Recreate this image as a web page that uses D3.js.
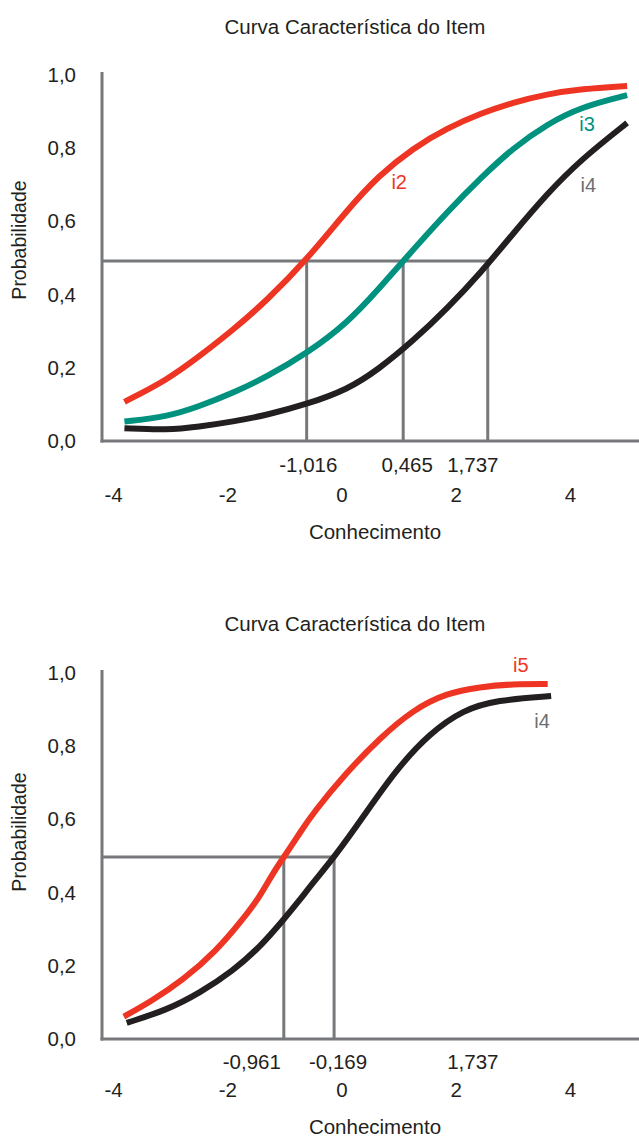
<!DOCTYPE html>
<html><head><meta charset="utf-8">
<script src="https://cdn.jsdelivr.net/npm/d3@7"></script>
<style>
body{margin:0;background:#fff}
svg{display:block}
text{font-family:"Liberation Sans",Arial,Helvetica,sans-serif;fill:#231f20}
</style>
</head><body><svg id="c" width="639" height="1139"></svg>
<script>
// ---------- data ----------
const xTickValues = [-4, -2, 0, 2, 4];
const yTickValues = [0, 0.2, 0.4, 0.6, 0.8, 1.0];
const titleText = "Curva Característica do Item";
const xTitle = "Conhecimento";
const yTitle = "Probabilidade";

// chart 1 (i2, i3, i4)
const c1X  = [-3.8, -3.05, -2.5, -1.9, -1.3, -0.6, 0.1, 0.65, 1.25, 1.85, 2.45, 3.0, 3.6, 4.2, 5.0];
const c1I2 = [0.107, 0.167, 0.230, 0.303, 0.385, 0.497, 0.631, 0.725, 0.800, 0.855, 0.896, 0.925, 0.948, 0.962, 0.970];
const c1I3 = [0.053, 0.066, 0.094, 0.131, 0.176, 0.240, 0.322, 0.415, 0.522, 0.626, 0.721, 0.800, 0.866, 0.913, 0.945];
const c1I4 = [0.035, 0.030, 0.039, 0.053, 0.071, 0.101, 0.140, 0.196, 0.273, 0.362, 0.462, 0.566, 0.676, 0.770, 0.869];
const c1CutP = 0.492;
const c1CutX = [-0.61, 1.08, 2.56];
const c1MarkLabels = ["-1,016", "0,465", "1,737"];
const c1MarkLabelX = [-0.58, 1.15, 2.30];

// chart 2 (i5, i4)
const c2I5X = [-3.81, -3.35, -2.77, -2.18, -1.78, -1.43, -1.20, -0.96, -0.73, -0.50, 0.08, 0.67, 1.25, 1.83, 2.43, 3.00, 3.61];
const c2I5  = [0.061, 0.101, 0.161, 0.243, 0.317, 0.388, 0.454, 0.508, 0.563, 0.617, 0.727, 0.822, 0.899, 0.945, 0.962, 0.970, 0.970];
const c2I4X = [-3.76, -3.06, -2.48, -1.90, -1.43, -1.02, -0.73, -0.50, -0.11, 0.38, 0.95, 1.55, 2.13, 2.71, 3.67];
const c2I4  = [0.044, 0.079, 0.126, 0.186, 0.251, 0.325, 0.380, 0.427, 0.500, 0.607, 0.735, 0.836, 0.899, 0.926, 0.937];
const c2CutP = 0.497;
const c2CutX = [-1.01, -0.13];
const c2MarkLabels = ["-0,961", "-0,169", "1,737"];
const c2MarkLabelX = [-1.57, -0.06, 2.30];

// ---------- styles ----------
const RED = "#ee3524", TEAL = "#00917f", BLACK = "#231f20", GRAY = "#77787b", LABELGRAY = "#6d6e71";
const FONT = 20.5;

const svg = d3.select("#c");
const fmt = d3.formatLocale({decimal: ",", thousands: ".", grouping: [3], currency: ["", ""], minus: "-"}).format(".1f");
const fmtX = d3.formatLocale({decimal: ",", thousands: ".", grouping: [3], currency: ["", ""], minus: "-"}).format("d");

function drawChart(cfg) {
  const g = svg.append("g");
  const x = d3.scaleLinear().domain([-4, 4]).range([113, 570]);
  const y = d3.scaleLinear().domain([0, 1]).range([cfg.y0, cfg.y0 - 366]);
  const axisLeftX = 102, axisRightX = 639;

  // title
  g.append("text").attr("x", 355).attr("y", cfg.titleY).attr("text-anchor", "middle")
    .style("font-size", "20.5px").text(titleText);

  // y tick labels
  const ya = d3.axisLeft(y).tickValues(yTickValues).tickFormat(fmt).tickSize(0).tickPadding(0);
  const yg = g.append("g").attr("transform", `translate(76,0)`).call(ya);
  yg.select(".domain").remove();
  yg.selectAll("text").style("font-size", FONT + "px").attr("fill", BLACK).attr("font-family", null);

  // y title
  g.append("text").attr("transform", `translate(${cfg.yTitleX},${cfg.yTitleY}) rotate(-90)`)
    .attr("text-anchor", "middle").attr("dy", "0.35em").style("font-size", "19.5px").text(yTitle);

  // x tick labels
  const xa = d3.axisBottom(x).tickValues(xTickValues).tickFormat(fmtX).tickSize(0).tickPadding(0);
  const xg = g.append("g").attr("transform", `translate(0,${cfg.tickY})`).call(xa);
  xg.select(".domain").remove();
  xg.selectAll("text").style("font-size", FONT + "px").attr("fill", BLACK).attr("dy", "0.35em").attr("y", 0).attr("font-family", null);

  // x title
  g.append("text").attr("x", 375).attr("y", cfg.xTitleY).attr("text-anchor", "middle")
    .attr("dy", "0.35em").style("font-size", "20.5px").text(xTitle);

  // marker labels
  g.selectAll(".ml").data(cfg.markLabels).enter().append("text")
    .attr("x", (d, i) => x(cfg.markLabelX[i])).attr("y", cfg.markY).attr("dy", "0.35em")
    .attr("text-anchor", "middle").style("font-size", FONT + "px").text(d => d);

  // reference lines
  const maxCut = d3.max(cfg.cutX);
  g.append("line").attr("x1", axisLeftX).attr("x2", x(maxCut) + 1.5)
    .attr("y1", y(cfg.cutP)).attr("y2", y(cfg.cutP))
    .attr("stroke", GRAY).attr("stroke-width", 3);
  g.selectAll(".vl").data(cfg.cutX).enter().append("line")
    .attr("x1", d => x(d)).attr("x2", d => x(d))
    .attr("y1", y(cfg.cutP) - 1.5).attr("y2", y(0))
    .attr("stroke", GRAY).attr("stroke-width", 3);

  // axes lines
  g.append("line").attr("x1", axisLeftX).attr("x2", axisLeftX).attr("y1", y(1) - 3).attr("y2", y(0) + 1.5)
    .attr("stroke", GRAY).attr("stroke-width", 3);
  g.append("line").attr("x1", axisLeftX - 1.5).attr("x2", axisRightX).attr("y1", y(0)).attr("y2", y(0))
    .attr("stroke", GRAY).attr("stroke-width", 3);

  // curves
  const line = d3.line().x(d => x(d[0])).y(d => y(d[1])).curve(d3.curveBasis);
  cfg.series.forEach(s => {
    const pts = s.xs.map((v, i) => [v, s.ys[i]]);
    g.append("path").datum(pts).attr("d", line).attr("fill", "none")
      .attr("stroke", s.color).attr("stroke-width", 6);
  });
  cfg.series.forEach(s => {
    g.append("text").attr("x", x(s.labelAt[0])).attr("y", y(s.labelAt[1])).attr("dy", "0.35em")
      .attr("text-anchor", "middle").style("font-size", "20px").style("fill", s.labelColor).text(s.name);
  });
}

drawChart({
  y0: 441, titleY: 34, yTitleX: 19, yTitleY: 240, tickY: 495, xTitleY: 532, markY: 465,
  cutP: c1CutP, cutX: c1CutX, markLabels: c1MarkLabels, markLabelX: c1MarkLabelX,
  series: [
    {name: "i2", xs: c1X, ys: c1I2, color: RED, labelColor: RED, labelAt: [1.01, 0.708]},
    {name: "i3", xs: c1X, ys: c1I3, color: TEAL, labelColor: TEAL, labelAt: [4.30, 0.866]},
    {name: "i4", xs: c1X, ys: c1I4, color: BLACK, labelColor: LABELGRAY, labelAt: [4.32, 0.699]}
  ]
});

drawChart({
  y0: 1039, titleY: 631, yTitleX: 19, yTitleY: 832, tickY: 1090, xTitleY: 1127, markY: 1062,
  cutP: c2CutP, cutX: c2CutX, markLabels: c2MarkLabels, markLabelX: c2MarkLabelX,
  series: [
    {name: "i5", xs: c2I5X, ys: c2I5, color: RED, labelColor: RED, labelAt: [3.14, 1.022]},
    {name: "i4", xs: c2I4X, ys: c2I4, color: BLACK, labelColor: LABELGRAY, labelAt: [3.51, 0.869]}
  ]
});
</script>
</body></html>
